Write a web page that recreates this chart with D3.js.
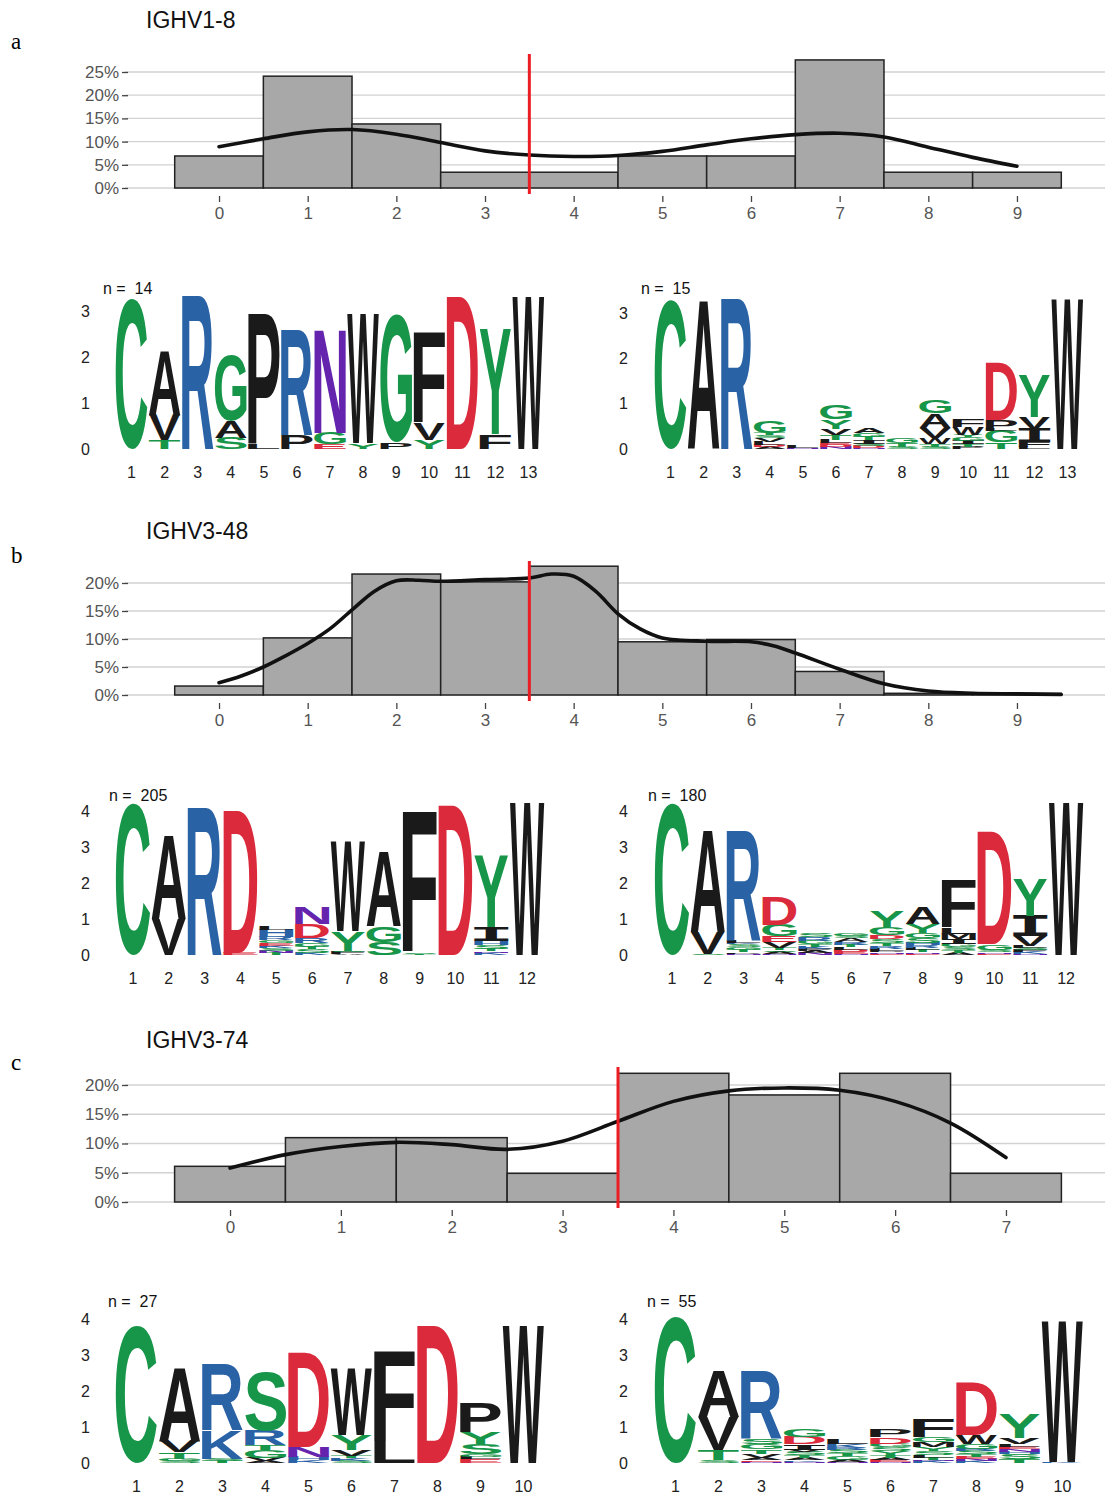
<!DOCTYPE html>
<html>
<head>
<meta charset="utf-8">
<script src="https://cdn.jsdelivr.net/npm/d3@7"></script>
<style>
  body { margin: 0; background: #fff; }
  svg { display: block; font-family: 'Liberation Sans', Arial, sans-serif; }
</style>
</head>
<body>
<div id="fig"></div>
<script>
// ---------- histogram data (% of sequences per mutation count) ----------
const binsA = [0, 1, 2, 3, 4, 5, 6, 7, 8, 9];
const pctA = [6.9, 24.1, 13.8, 3.4, 3.4, 6.9, 6.9, 27.6, 3.4, 3.4];
const densXA = [0, 0.5, 1, 1.5, 2, 2.5, 3, 3.5, 4, 4.5, 5, 5.5, 6, 6.5, 7, 7.5, 8, 8.5, 9];
const densYA = [8.9, 10.6, 12.1, 12.6, 11.6, 9.8, 8.0, 7.1, 6.8, 7.0, 7.9, 9.3, 10.6, 11.5, 11.8, 11.0, 8.8, 6.6, 4.7];

const binsB = [0, 1, 2, 3, 4, 5, 6, 7, 8, 9];
const pctB = [1.6, 10.2, 21.6, 20.2, 23.0, 9.5, 9.9, 4.2, 0.3, 0.3];
const densXB = [0, 0.25, 0.5, 0.75, 1, 1.25, 1.5, 1.75, 2, 2.25, 2.5, 3, 3.5, 3.75, 4, 4.25, 4.5, 4.75, 5, 5.5, 6, 6.25, 6.5, 7, 7.5, 8, 8.5, 9, 9.5];
const densYB = [2.2, 3.4, 5.0, 7.0, 9.2, 11.8, 15.2, 18.5, 20.4, 20.5, 20.3, 20.6, 20.9, 21.6, 21.2, 18.5, 14.5, 11.8, 10.2, 9.6, 9.5, 8.8, 7.5, 4.6, 2.0, 0.7, 0.3, 0.2, 0.1];

const binsC = [0, 1, 2, 3, 4, 5, 6, 7];
const pctC = [6.1, 11.0, 11.0, 4.9, 22.0, 18.3, 22.0, 4.9];
const densXC = [0, 0.5, 1, 1.5, 2, 2.5, 3, 3.5, 4, 4.5, 5, 5.5, 6, 6.5, 7];
const densYC = [5.8, 8.1, 9.5, 10.2, 9.8, 9.0, 10.4, 13.8, 17.2, 19.0, 19.5, 19.1, 17.2, 13.5, 7.6];

const titles = ["IGHV1-8", "IGHV3-48", "IGHV3-74"];
const panelTags = ["a", "b", "c"];
const cutoff = 3.5;

// ---------- sequence logos: per position, letters bottom->top with bits ----------
const logoA1 = [
  [["C", 3.26]],
  [["T", 0.2], ["V", 0.55], ["A", 1.42]],
  [["R", 3.33]],
  [["S", 0.25], ["A", 0.35], ["G", 1.42]],
  [["L", 0.1], ["P", 2.84]],
  [["P", 0.3], ["R", 2.29]],
  [["E", 0.1], ["G", 0.25], ["N", 2.25]],
  [["Y", 0.12], ["W", 2.8]],
  [["P", 0.15], ["G", 2.77]],
  [["Y", 0.2], ["V", 0.36], ["F", 1.99]],
  [["D", 3.3]],
  [["F", 0.32], ["Y", 2.27]],
  [["W", 3.3]]
];
const logoA2 = [
  [["C", 3.3]],
  [["A", 3.3]],
  [["R", 3.3]],
  [["A", 0.04], ["D", 0.04], ["L", 0.08], ["V", 0.08], ["S", 0.06], ["T", 0.06], ["G", 0.25]],
  [["N", 0.02], ["L", 0.06]],
  [["N", 0.05], ["D", 0.04], ["E", 0.04], ["L", 0.07], ["T", 0.1], ["V", 0.15], ["Y", 0.2], ["G", 0.32]],
  [["N", 0.03], ["D", 0.04], ["S", 0.05], ["I", 0.08], ["T", 0.07], ["G", 0.08], ["A", 0.1]],
  [["S", 0.05], ["T", 0.08], ["G", 0.1]],
  [["S", 0.05], ["T", 0.05], ["W", 0.15], ["V", 0.22], ["A", 0.31], ["G", 0.29]],
  [["P", 0.05], ["T", 0.06], ["I", 0.07], ["G", 0.08], ["Y", 0.06], ["W", 0.16], ["F", 0.17]],
  [["T", 0.14], ["G", 0.25], ["L", 0.05], ["P", 0.2], ["D", 1.26]],
  [["L", 0.05], ["F", 0.1], ["I", 0.3], ["V", 0.25], ["Y", 0.92]],
  [["W", 3.3]]
];
const logoB1 = [
  [["C", 4.22]],
  [["V", 1.0], ["A", 2.37]],
  [["R", 4.1]],
  [["E", 0.05], ["D", 3.97]],
  [["T", 0.06], ["N", 0.05], ["S", 0.08], ["K", 0.07], ["E", 0.07], ["G", 0.08], ["R", 0.09], ["H", 0.2], ["L", 0.1]],
  [["K", 0.06], ["S", 0.1], ["T", 0.06], ["G", 0.12], ["R", 0.14], ["D", 0.39], ["N", 0.45]],
  [["A", 0.03], ["F", 0.05], ["S", 0.04], ["Y", 0.55], ["W", 2.51]],
  [["S", 0.35], ["G", 0.45], ["A", 2.1]],
  [["T", 0.02], ["S", 0.03], ["F", 3.97]],
  [["D", 4.2]],
  [["K", 0.06], ["N", 0.04], ["T", 0.08], ["S", 0.1], ["H", 0.1], ["I", 0.4], ["Y", 2.0]],
  [["W", 4.25]]
];
const logoB2 = [
  [["C", 4.22]],
  [["S", 0.03], ["V", 0.62], ["A", 2.85]],
  [["N", 0.04], ["P", 0.05], ["T", 0.06], ["G", 0.08], ["S", 0.07], ["K", 0.04], ["L", 0.05], ["R", 3.07]],
  [["N", 0.04], ["A", 0.05], ["S", 0.05], ["T", 0.06], ["V", 0.17], ["E", 0.16], ["G", 0.32], ["D", 0.8]],
  [["N", 0.05], ["A", 0.06], ["P", 0.06], ["K", 0.06], ["T", 0.08], ["G", 0.09], ["R", 0.09], ["S", 0.09]],
  [["N", 0.04], ["E", 0.05], ["D", 0.06], ["L", 0.06], ["T", 0.07], ["R", 0.08], ["A", 0.12], ["S", 0.06], ["G", 0.08]],
  [["E", 0.03], ["N", 0.04], ["P", 0.05], ["L", 0.06], ["R", 0.07], ["T", 0.08], ["S", 0.11], ["D", 0.12], ["G", 0.2], ["Y", 0.47]],
  [["E", 0.04], ["N", 0.04], ["T", 0.06], ["L", 0.06], ["R", 0.08], ["H", 0.06], ["S", 0.14], ["G", 0.14], ["Y", 0.25], ["A", 0.45]],
  [["A", 0.05], ["T", 0.08], ["S", 0.08], ["G", 0.09], ["I", 0.14], ["M", 0.16], ["L", 0.16], ["F", 1.35]],
  [["E", 0.04], ["N", 0.03], ["S", 0.07], ["G", 0.16], ["D", 3.16]],
  [["N", 0.04], ["K", 0.05], ["F", 0.05], ["S", 0.06], ["L", 0.05], ["V", 0.28], ["I", 0.57], ["Y", 1.03]],
  [["W", 4.25]]
];
const logoC1 = [
  [["C", 3.84]],
  [["S", 0.06], ["G", 0.06], ["T", 0.18], ["V", 0.3], ["A", 2.08]],
  [["T", 0.06], ["S", 0.06], ["K", 0.79], ["R", 1.84]],
  [["A", 0.05], ["V", 0.1], ["G", 0.2], ["T", 0.15], ["R", 0.41], ["S", 1.67]],
  [["K", 0.08], ["H", 0.09], ["N", 0.28], ["D", 2.65]],
  [["S", 0.06], ["K", 0.07], ["T", 0.06], ["V", 0.16], ["Y", 0.42], ["W", 1.86]],
  [["L", 0.59], ["F", 2.55]],
  [["D", 3.84]],
  [["E", 0.1], ["L", 0.08], ["G", 0.08], ["S", 0.28], ["Y", 0.32], ["P", 0.84]],
  [["W", 3.84]]
];
const logoC2 = [
  [["C", 4.07]],
  [["S", 0.07], ["T", 0.3], ["V", 0.91], ["A", 1.31]],
  [["N", 0.04], ["E", 0.04], ["A", 0.06], ["V", 0.12], ["T", 0.12], ["G", 0.14], ["S", 0.16], ["R", 1.91]],
  [["N", 0.04], ["K", 0.04], ["A", 0.06], ["T", 0.08], ["S", 0.09], ["V", 0.06], ["I", 0.15], ["D", 0.21], ["G", 0.2]],
  [["N", 0.04], ["A", 0.05], ["G", 0.1], ["T", 0.08], ["S", 0.1], ["R", 0.06], ["K", 0.1], ["L", 0.15]],
  [["N", 0.04], ["E", 0.05], ["A", 0.06], ["T", 0.08], ["Y", 0.1], ["S", 0.11], ["G", 0.1], ["D", 0.19], ["P", 0.23]],
  [["K", 0.05], ["N", 0.04], ["T", 0.06], ["L", 0.08], ["S", 0.1], ["Y", 0.12], ["M", 0.14], ["G", 0.14], ["F", 0.51]],
  [["K", 0.06], ["N", 0.05], ["E", 0.07], ["T", 0.06], ["S", 0.1], ["R", 0.06], ["G", 0.14], ["W", 0.25], ["D", 1.47]],
  [["T", 0.12], ["S", 0.14], ["H", 0.06], ["N", 0.06], ["E", 0.06], ["L", 0.08], ["V", 0.19], ["Y", 0.67]],
  [["K", 0.03], ["W", 3.95]]
];
const logoCounts = ["n =  14", "n =  15", "n =  205", "n =  180", "n =  27", "n =  55"];

// chemistry colour scheme
const aaColor = {};
"GSTYC".split("").forEach(a => aaColor[a] = "#17964a");
"NQ".split("").forEach(a => aaColor[a] = "#6524ad");
"KRH".split("").forEach(a => aaColor[a] = "#2a62a6");
"DE".split("").forEach(a => aaColor[a] = "#db2a3c");
"AVLIPWFM".split("").forEach(a => aaColor[a] = "#1b1a1a");

const W = 1112, H = 1499;
const svg = d3.select("#fig").append("svg").attr("width", W).attr("height", H);

// ---------- histograms ----------
const hists = [
  {bins: binsA, pct: pctA, dx: densXA, dy: densYA, ymax: 25, y0: 188, ytop: 72, lineTop: 54, xr: [174.7, 1061.3], titleY: 28, tagY: 49},
  {bins: binsB, pct: pctB, dx: densXB, dy: densYB, ymax: 20, y0: 695, ytop: 583, lineTop: 561, xr: [174.7, 1061.3], titleY: 539, tagY: 563},
  {bins: binsC, pct: pctC, dx: densXC, dy: densYC, ymax: 20, y0: 1202, ytop: 1085, lineTop: 1067, xr: [174.6, 1061.4], titleY: 1048, tagY: 1070}
];

hists.forEach((h, k) => {
  const g = svg.append("g");
  const n = h.bins.length;
  const x = d3.scaleLinear().domain([-0.5, n - 0.5]).range(h.xr);
  const y = d3.scaleLinear().domain([0, h.ymax]).range([h.y0, h.ytop]);
  const yt = d3.range(0, h.ymax + 1, 5);

  // tag + title
  svg.append("text").attr("x", 11).attr("y", h.tagY)
    .style("font-family", "'Liberation Serif', serif").style("font-size", "23px").text(panelTags[k]);
  svg.append("text").attr("x", 146).attr("y", h.titleY)
    .style("font-size", "23px").attr("fill", "#111").text(titles[k]);

  // gridlines
  g.selectAll(".grid").data(yt).join("line")
    .attr("x1", 125).attr("x2", 1105)
    .attr("y1", d => y(d)).attr("y2", d => y(d))
    .attr("stroke", "#d2d2d2").attr("stroke-width", 1.3);

  // axes
  const ya = g.append("g").attr("transform", "translate(128,0)")
    .call(d3.axisLeft(y).tickValues(yt).tickFormat(d => d + "%").tickSize(6).tickPadding(3));
  ya.select(".domain").remove();
  ya.selectAll("line").attr("stroke", "#444").attr("stroke-width", 1.3);
  ya.selectAll("text").attr("fill", "#555").style("font-size", "17px").style("font-family", "'Liberation Sans', Arial");

  const xa = g.append("g").attr("transform", `translate(0,${h.y0 + 8})`)
    .call(d3.axisBottom(x).tickValues(h.bins).tickFormat(d3.format("d")).tickSize(6).tickPadding(5));
  xa.select(".domain").remove();
  xa.selectAll("line").attr("stroke", "#444").attr("stroke-width", 1.3);
  xa.selectAll("text").attr("fill", "#555").style("font-size", "17px").style("font-family", "'Liberation Sans', Arial");

  // bars
  g.selectAll(".bar").data(h.pct).join("rect")
    .attr("x", (d, i) => x(h.bins[i] - 0.5))
    .attr("width", (d, i) => x(h.bins[i] + 0.5) - x(h.bins[i] - 0.5))
    .attr("y", d => y(d))
    .attr("height", d => y(0) - y(d))
    .attr("fill", "#a8a8a8").attr("stroke", "#222").attr("stroke-width", 1.5);

  // density curve
  const pts = h.dx.map((v, i) => [v, h.dy[i]]);
  g.append("path").datum(pts)
    .attr("d", d3.line().x(d => x(d[0])).y(d => y(d[1])).curve(d3.curveCatmullRom.alpha(0.5)))
    .attr("fill", "none").attr("stroke", "#111").attr("stroke-width", 3.6)
    .attr("stroke-linecap", "round");

  // cutoff line
  g.append("line")
    .attr("x1", x(cutoff)).attr("x2", x(cutoff))
    .attr("y1", h.lineTop).attr("y2", h.y0 + 6)
    .attr("stroke", "#ec1c24").attr("stroke-width", 3);
});

// ---------- logos ----------
// letters are stretched to fill their box; ink bounds measured on a canvas
const fontFor = ch => ch === "I" ? "'DejaVu Sans Mono'" : "'Liberation Sans'";
const mctx = document.createElement("canvas").getContext("2d");
const glyphBox = {};
function box(ch) {
  if (!glyphBox[ch]) {
    mctx.font = "bold 100px " + fontFor(ch);
    const m = mctx.measureText(ch);
    glyphBox[ch] = {l: m.actualBoundingBoxLeft, r: m.actualBoundingBoxRight,
                    a: m.actualBoundingBoxAscent, d: m.actualBoundingBoxDescent};
  }
  return glyphBox[ch];
}

const logos = [
  {data: logoA1, xr: [115, 545], base: 449, bit: 46.0, ticks: [0, 1, 2, 3], axX: 90, nX: 103, nY: 294},
  {data: logoA2, xr: [654, 1084], base: 449, bit: 45.3, ticks: [0, 1, 2, 3], axX: 628, nX: 641, nY: 294},
  {data: logoB1, xr: [115, 545], base: 955, bit: 35.8, ticks: [0, 1, 2, 3, 4], axX: 90, nX: 109, nY: 801},
  {data: logoB2, xr: [654, 1084], base: 955, bit: 35.8, ticks: [0, 1, 2, 3, 4], axX: 628, nX: 648, nY: 801},
  {data: logoC1, xr: [115, 545], base: 1463, bit: 35.8, ticks: [0, 1, 2, 3, 4], axX: 90, nX: 108, nY: 1307},
  {data: logoC2, xr: [654, 1084], base: 1463, bit: 35.8, ticks: [0, 1, 2, 3, 4], axX: 628, nX: 647, nY: 1307}
];

logos.forEach((L, k) => {
  const g = svg.append("g");
  const positions = L.data.map((d, i) => i + 1);
  const x = d3.scaleBand().domain(positions).range(L.xr).paddingInner(0.04).paddingOuter(0.02);
  const y = d3.scaleLinear().domain([0, 1]).range([L.base, L.base - L.bit]);

  L.data.forEach((stack, i) => {
    let cum = 0;
    stack.forEach(([ch, bits]) => {
      const yb = y(cum), yt = y(cum + bits);
      cum += bits;
      const b = box(ch);
      const sx = x.bandwidth() / (b.l + b.r);
      const sy = (yb - yt) / (b.a + b.d);
      g.append("text").text(ch)
        .style("font-family", fontFor(ch)).style("font-weight", "bold").style("font-size", "100px")
        .attr("fill", aaColor[ch])
        .attr("transform", `translate(${x(positions[i]) + b.l * sx},${yb - b.d * sy}) scale(${sx},${sy})`);
    });
  });

  const ya = g.append("g").attr("transform", `translate(${L.axX},0)`)
    .call(d3.axisLeft(y).tickValues(L.ticks).tickFormat(d3.format("d")).tickSize(0).tickPadding(0));
  ya.select(".domain").remove();
  ya.selectAll("text").attr("fill", "#222").style("font-size", "16px");

  const xa = g.append("g").attr("transform", `translate(0,${L.base})`)
    .call(d3.axisBottom(x).tickSize(0).tickPadding(18));
  xa.select(".domain").remove();
  xa.selectAll("text").attr("fill", "#222").style("font-size", "16px");

  g.append("text").attr("x", L.nX).attr("y", L.nY)
    .style("font-size", "16px").attr("fill", "#111")
    .style("white-space", "pre").attr("xml:space", "preserve")
    .text(logoCounts[k]);
});
</script>
</body>
</html>
